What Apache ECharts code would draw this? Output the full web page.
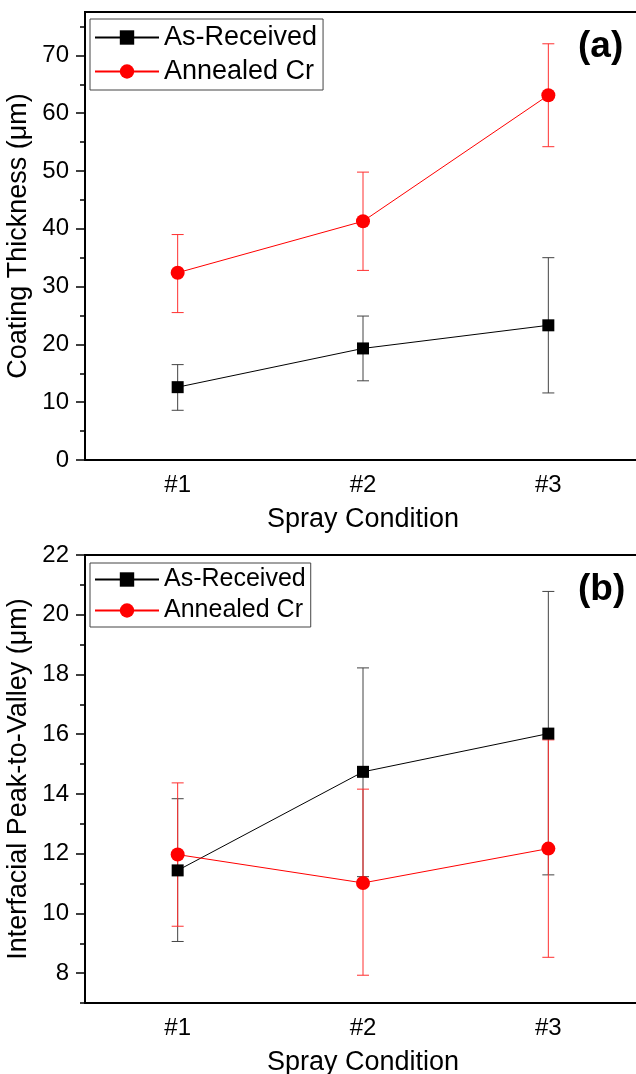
<!DOCTYPE html>
<html>
<head>
<meta charset="utf-8">
<script src="https://cdn.jsdelivr.net/npm/echarts@6/dist/echarts.min.js"></script>
<style>html,body{margin:0;padding:0;background:#fff;}#c{width:636px;height:1074px;}</style>
</head>
<body>
<div id="c"></div>
<script>
const categories = ['#1', '#2', '#3'];
// (a) Coating thickness
const thickAsReceived = [12.6, 19.3, 23.3];
const thickAsReceivedLow = [8.6, 13.7, 11.6];
const thickAsReceivedHigh = [16.5, 24.9, 35.0];
const thickAnnealed = [32.4, 41.3, 63.1];
const thickAnnealedLow = [25.5, 32.8, 54.2];
const thickAnnealedHigh = [39.0, 49.8, 72.0];
const thickMajorTicks = [0, 10, 20, 30, 40, 50, 60, 70];
const thickMinorTicks = [5, 15, 25, 35, 45, 55, 65, 75];
// (b) Interfacial peak-to-valley
const pvAsReceived = [11.44, 14.74, 16.02];
const pvAsReceivedLow = [9.06, 11.23, 11.29];
const pvAsReceivedHigh = [13.84, 18.22, 20.78];
const pvAnnealed = [11.97, 11.02, 12.17];
const pvAnnealedLow = [9.57, 7.93, 8.53];
const pvAnnealedHigh = [14.37, 14.16, 15.81];
const pvMajorTicks = [8, 10, 12, 14, 16, 18, 20, 22];
const pvMinorTicks = [7, 9, 11, 13, 15, 17, 19, 21];

const FONT = "'Liberation Sans', Arial, sans-serif";
const chart = echarts.init(document.getElementById('c'), null, {renderer: 'canvas'});

function errData(low, high) {
  return low.map((l, i) => [i, l, high[i]]);
}
function errSeries(name, low, high, color, xi, yi) {
  return {
    type: 'custom', name: name, xAxisIndex: xi, yAxisIndex: yi, z: 1,
    data: errData(low, high),
    encode: {x: 0, y: [1, 2]},
    silent: true,
    renderItem: function (params, api) {
      const p1 = api.coord([api.value(0), api.value(1)]);
      const p2 = api.coord([api.value(0), api.value(2)]);
      const w = 6;
      const st = {stroke: color, lineWidth: 1, fill: null};
      return {type: 'group', children: [
        {type: 'line', shape: {x1: p1[0], y1: p1[1], x2: p2[0], y2: p2[1]}, style: st},
        {type: 'line', shape: {x1: p1[0] - w, y1: p1[1], x2: p1[0] + w, y2: p1[1]}, style: st},
        {type: 'line', shape: {x1: p2[0] - w, y1: p2[1], x2: p2[0] + w, y2: p2[1]}, style: st}
      ]};
    }
  };
}
function lineSeries(name, data, color, symbol, size, xi, yi) {
  return {
    type: 'line', name: name, xAxisIndex: xi, yAxisIndex: yi, z: 3,
    data: data, symbol: symbol, symbolSize: size,
    itemStyle: {color: color, opacity: 1},
    lineStyle: {color: color, width: 1},
    emphasis: {disabled: true}, animation: false
  };
}
const axisTxt = {color: '#000', fontFamily: FONT, fontSize: 24};
function xAx(gi) {
  return {
    type: 'category', gridIndex: gi, data: categories, boundaryGap: true,
    axisLine: {lineStyle: {color: '#000', width: 2}},
    axisTick: {alignWithLabel: true, length: 9, lineStyle: {color: '#000', width: 1.5}},
    axisLabel: Object.assign({margin: 13}, axisTxt),
    splitLine: {show: false},
    name: 'Spray Condition', nameLocation: 'middle', nameGap: 46,
    nameTextStyle: {color: '#000', fontFamily: FONT, fontSize: 27}
  };
}
function yMain(gi, min, max, ticks, name) {
  return {
    type: 'value', gridIndex: gi, min: min, max: max, position: 'left',
    axisLine: {show: true, lineStyle: {color: '#000', width: 2}},
    axisTick: {show: true, customValues: ticks, length: 9, lineStyle: {color: '#000', width: 1.5}},
    axisLabel: Object.assign({customValues: ticks, margin: 16}, axisTxt),
    splitLine: {show: false},
    name: name, nameLocation: 'middle', nameGap: 53, nameMoveOverlap: false,
    nameTextStyle: {color: '#000', fontFamily: FONT, fontSize: 27}
  };
}
function yMinor(gi, min, max, ticks) {
  return {
    type: 'value', gridIndex: gi, min: min, max: max, position: 'left', offset: 0,
    axisLine: {show: false},
    axisTick: {show: true, customValues: ticks, length: 5, lineStyle: {color: '#000', width: 1.5}},
    axisLabel: {show: false},
    splitLine: {show: false}
  };
}
const legendCommon = {
  orient: 'vertical', left: 90, itemWidth: 64, itemHeight: 18,
  backgroundColor: '#fff', borderColor: '#444', borderWidth: 1, borderRadius: 0,
  selectedMode: false, data: ['As-Received', 'Annealed Cr'],
  textStyle: {color: '#000', fontFamily: FONT}
};

chart.setOption({
  animation: false,
  backgroundColor: '#fff',
  grid: [
    {left: 85, top: 12, width: 556, height: 448, show: true, borderColor: '#000', borderWidth: 2, backgroundColor: 'transparent', outerBoundsMode: 'none', containLabel: false},
    {left: 85, top: 555, width: 556, height: 448, show: true, borderColor: '#000', borderWidth: 2, backgroundColor: 'transparent', outerBoundsMode: 'none', containLabel: false}
  ],
  xAxis: [xAx(0), xAx(1)],
  yAxis: [
    yMain(0, 0, 77.5, thickMajorTicks, 'Coating Thickness (μm)'),
    yMinor(0, 0, 77.5, thickMinorTicks),
    yMain(1, 7, 22, pvMajorTicks, 'Interfacial Peak-to-Valley (μm)'),
    yMinor(1, 7, 22, pvMinorTicks)
  ],
  legend: [
    Object.assign({}, legendCommon, {top: 19, itemGap: 7, padding: [5, 6, 5, 4],
      textStyle: {color: '#000', fontFamily: FONT, fontSize: 27}}),
    Object.assign({}, legendCommon, {top: 563, itemGap: 6, padding: [4, 5, 4, 4],
      textStyle: {color: '#000', fontFamily: FONT, fontSize: 25}})
  ],
  graphic: [
    {type: 'text', left: 578, top: 28, style: {text: '(a)', fontFamily: FONT, fontWeight: 'bold', fontSize: 37, fill: '#000'}},
    {type: 'text', left: 578, top: 571, style: {text: '(b)', fontFamily: FONT, fontWeight: 'bold', fontSize: 37, fill: '#000'}}
  ],
  series: [
    errSeries('errA1', thickAsReceivedLow, thickAsReceivedHigh, '#444', 0, 0),
    errSeries('errA2', thickAnnealedLow, thickAnnealedHigh, '#ff3030', 0, 0),
    lineSeries('As-Received', thickAsReceived, '#000', 'rect', 12, 0, 0),
    lineSeries('Annealed Cr', thickAnnealed, '#ff0000', 'circle', 14, 0, 0),
    errSeries('errB1', pvAsReceivedLow, pvAsReceivedHigh, '#444', 1, 2),
    errSeries('errB2', pvAnnealedLow, pvAnnealedHigh, '#ff3030', 1, 2),
    lineSeries('As-Received', pvAsReceived, '#000', 'rect', 12, 1, 2),
    lineSeries('Annealed Cr', pvAnnealed, '#ff0000', 'circle', 14, 1, 2)
  ]
});
</script>
</body>
</html>
